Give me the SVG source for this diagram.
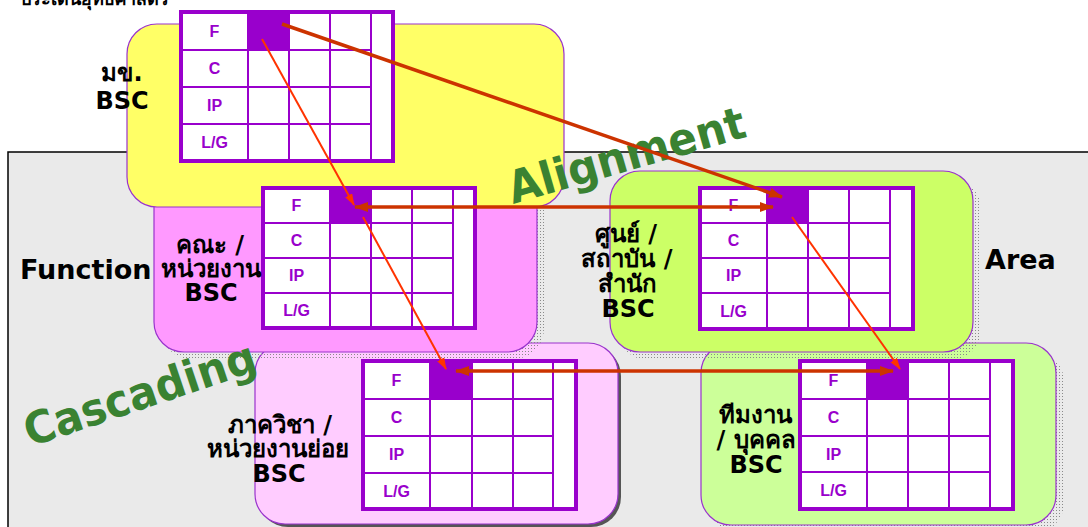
<svg xmlns="http://www.w3.org/2000/svg" width="1088" height="527" viewBox="0 0 1088 527">
<style>
.box{stroke:#9933cc;stroke-width:1.2}
.gbg{fill:#ffffff}
.gcell{fill:#9900cc}
.gin{stroke:#9900cc;stroke-width:2;fill:none}
.gout{stroke:#9900cc;stroke-width:4;fill:none}
.gl{font-family:"Liberation Sans",Arial,sans-serif;font-weight:bold;font-size:16px;fill:#9900cc;text-anchor:middle}
.ttl{font-family:"DejaVu Sans","Noto Sans",sans-serif;font-weight:bold;font-size:24px;fill:#000;text-anchor:middle}
.big{font-family:"DejaVu Sans","Noto Sans",sans-serif;font-weight:bold;font-size:27px;fill:#000}
.grn{font-family:"DejaVu Sans","Noto Sans",sans-serif;font-weight:bold;font-size:45px;fill:#3a8232}
.thick{stroke:#cc3300;stroke-width:3.5;fill:none}
.thin{stroke:#ff3300;stroke-width:2;fill:none}
</style>
<defs>
<pattern id="dots" width="3" height="3" patternUnits="userSpaceOnUse">
<rect x="0" y="0" width="1" height="1" fill="#8a8a8a"/>
</pattern>
<marker id="ahT" viewBox="0 0 14 10" refX="13" refY="5" markerWidth="14" markerHeight="10" markerUnits="userSpaceOnUse" orient="auto-start-reverse">
<path d="M0,0 L14,5 L0,10 z" fill="#cc3300"/>
</marker>
<marker id="aht" viewBox="0 0 12 8" refX="11" refY="4" markerWidth="12" markerHeight="8" markerUnits="userSpaceOnUse" orient="auto">
<path d="M0,0 L12,4 L0,8 z" fill="#ff3300"/>
</marker>
</defs>

<rect x="8" y="152" width="1090" height="385" fill="#eaeaea" stroke="#000" stroke-width="1.5"/>
<text x="20" y="5" font-family="'DejaVu Sans','Noto Sans',sans-serif" font-weight="bold" font-size="18" fill="#000">ประเด็นยุทธศาสตร์</text>

<g id="node-dept">
<rect x="258" y="346" width="363" height="181" rx="30" fill="#555"/>
<rect class="box" x="255" y="343" width="363" height="181" rx="30" fill="#ffccff"/>
</g>
<g id="node-team">
<rect x="709" y="351" width="355" height="182" rx="30" fill="url(#dots)"/>
<rect class="box" x="701" y="343" width="355" height="182" rx="30" fill="#ccff99"/>
</g>
<g id="node-faculty">
<rect x="161" y="167" width="383" height="192" rx="30" fill="url(#dots)"/>
<rect class="box" x="154" y="160" width="383" height="192" rx="30" fill="#ff99ff"/>
</g>
<g id="node-center">
<rect x="618" y="179" width="363" height="181" rx="30" fill="url(#dots)"/>
<rect class="box" x="610" y="171" width="363" height="181" rx="30" fill="#ccff66"/>
</g>
<g id="node-univ">
<rect class="box" x="127" y="24" width="437" height="183" rx="30" fill="#ffff66"/>
</g>

<g id="grid-univ">
<rect class="gbg" x="181" y="12" width="212" height="149"/>
<rect class="gcell" x="248" y="12" width="41" height="38"/>
<path class="gin" d="M248,12V161M289,12V161M330,12V161M371,12V161M181,50H371M181,87H371M181,124H371"/>
<rect class="gout" x="181" y="12" width="212" height="149"/>
<text class="gl" x="214.5" y="37">F</text><text class="gl" x="214.5" y="74">C</text><text class="gl" x="214.5" y="111">IP</text><text class="gl" x="214.5" y="148">L/G</text>
</g>
<g id="grid-faculty">
<rect class="gbg" x="263" y="188" width="212" height="140"/>
<rect class="gcell" x="330" y="188" width="41" height="35"/>
<path class="gin" d="M330,188V328M371,188V328M412,188V328M453,188V328M263,223H453M263,258H453M263,293H453"/>
<rect class="gout" x="263" y="188" width="212" height="140"/>
<text class="gl" x="296.5" y="211">F</text><text class="gl" x="296.5" y="246">C</text><text class="gl" x="296.5" y="281">IP</text><text class="gl" x="296.5" y="316">L/G</text>
</g>
<g id="grid-center">
<rect class="gbg" x="700" y="188" width="213" height="141"/>
<rect class="gcell" x="767" y="188" width="41" height="35"/>
<path class="gin" d="M767,188V329M808,188V329M849,188V329M890,188V329M700,223H890M700,258H890M700,293H890"/>
<rect class="gout" x="700" y="188" width="213" height="141"/>
<text class="gl" x="733.5" y="211">F</text><text class="gl" x="733.5" y="246">C</text><text class="gl" x="733.5" y="281">IP</text><text class="gl" x="733.5" y="317">L/G</text>
</g>
<g id="grid-dept">
<rect class="gbg" x="363" y="361" width="213" height="148"/>
<rect class="gcell" x="430" y="361" width="42" height="38"/>
<path class="gin" d="M430,361V509M472,361V509M513,361V509M553,361V509M363,399H553M363,436H553M363,473H553"/>
<rect class="gout" x="363" y="361" width="213" height="148"/>
<text class="gl" x="396.5" y="386">F</text><text class="gl" x="396.5" y="423">C</text><text class="gl" x="396.5" y="460">IP</text><text class="gl" x="396.5" y="497">L/G</text>
</g>
<g id="grid-team">
<rect class="gbg" x="800" y="361" width="213" height="148"/>
<rect class="gcell" x="867" y="361" width="41" height="38"/>
<path class="gin" d="M867,361V509M908,361V509M949,361V509M990,361V509M800,399H990M800,436H990M800,472H990"/>
<rect class="gout" x="800" y="361" width="213" height="148"/>
<text class="gl" x="833.5" y="386">F</text><text class="gl" x="833.5" y="423">C</text><text class="gl" x="833.5" y="460">IP</text><text class="gl" x="833.5" y="496">L/G</text>
</g>

<g id="labels">
<text class="ttl" x="122" y="81">มข.</text><text class="ttl" x="122" y="109">BSC</text>
<text class="ttl" x="210" y="253">คณะ /</text><text class="ttl" x="211" y="277">หน่วยงาน</text><text class="ttl" x="211" y="301">BSC</text>
<text class="ttl" x="626" y="242">ศูนย์ /</text><text class="ttl" x="627" y="267">สถาบัน /</text><text class="ttl" x="627" y="292">สำนัก</text><text class="ttl" x="628" y="317">BSC</text>
<text class="ttl" x="280" y="433">ภาควิชา /</text><text class="ttl" x="278" y="457">หน่วยงานย่อย</text><text class="ttl" x="279" y="482">BSC</text>
<text class="ttl" x="755" y="423">ทีมงาน</text><text class="ttl" x="756" y="448">/ บุคคล</text><text class="ttl" x="756" y="473">BSC</text>
<text class="big" x="20" y="279">Function</text>
<text class="big" x="985" y="269">Area</text>
<text class="grn" transform="translate(513,204) rotate(-16)" textLength="245" lengthAdjust="spacingAndGlyphs">Alignment</text>
<text class="grn" transform="translate(30,447) rotate(-18.5)" textLength="242" lengthAdjust="spacingAndGlyphs">Cascading</text>
</g>

<g id="connectors">
<line class="thick" x1="282" y1="24" x2="782" y2="197" marker-end="url(#ahT)"/>
<line class="thick" x1="355" y1="207" x2="773" y2="207" marker-start="url(#ahT)" marker-end="url(#ahT)"/>
<line class="thick" x1="456" y1="371" x2="893" y2="371" marker-start="url(#ahT)" marker-end="url(#ahT)"/>
<line class="thin" x1="262" y1="39" x2="354" y2="205" marker-end="url(#aht)"/>
<line class="thin" x1="363" y1="217" x2="446" y2="369" marker-end="url(#aht)"/>
<line class="thin" x1="792" y1="217" x2="900" y2="369" marker-end="url(#aht)"/>
</g>
</svg>
